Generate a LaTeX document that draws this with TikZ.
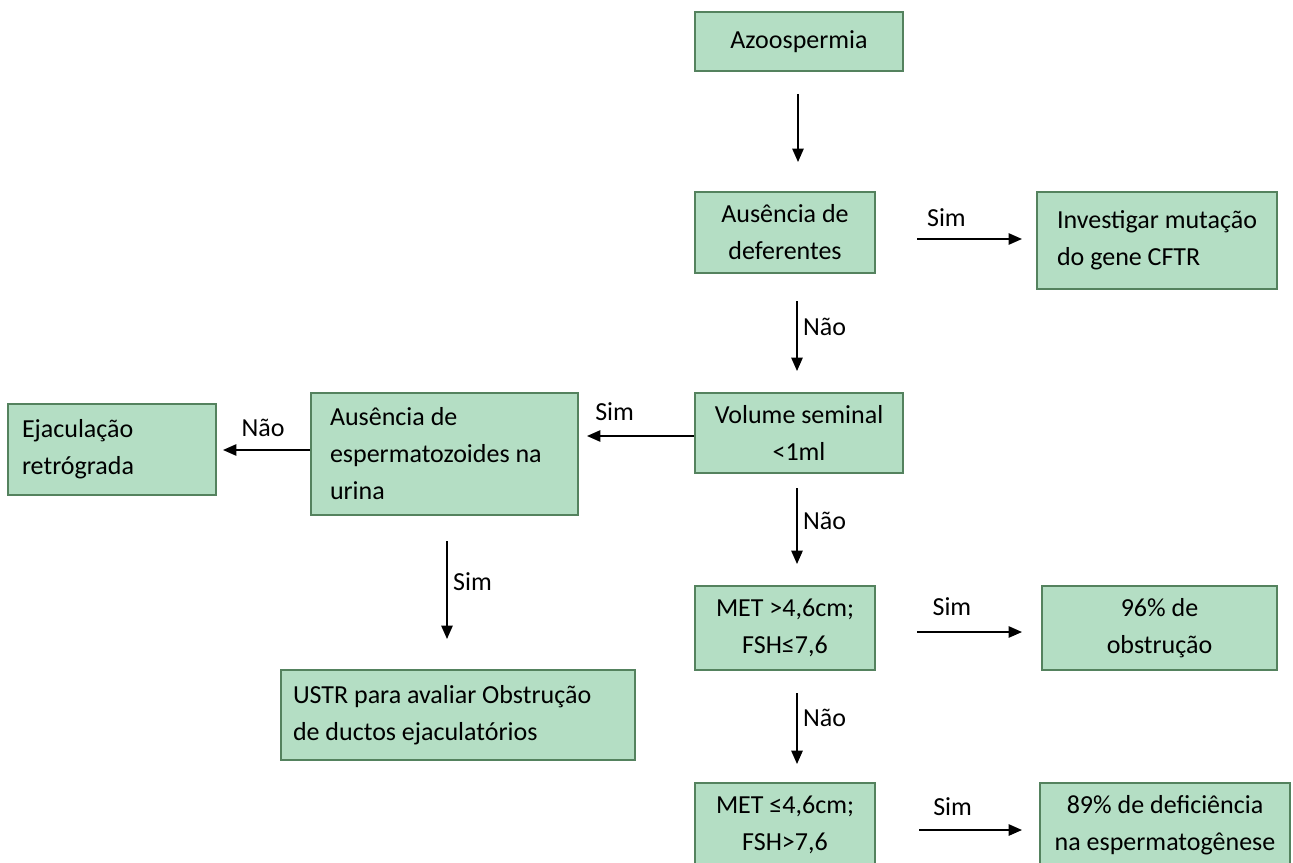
\documentclass[tikz,border=0pt]{standalone}
\usepackage{fontspec}
\setmainfont{Carlito}
\usetikzlibrary{arrows.meta}
\definecolor{boxfill}{RGB}{180,222,196}
\definecolor{boxline}{RGB}{84,130,94}
\tikzset{
  box/.style={draw=boxline, fill=boxfill, line width=1.5pt, inner sep=0pt,
    font=\fontsize{19.5pt}{27.75pt}\selectfont},
  arr/.style={line width=1.2pt, -{Triangle[length=10pt,width=8.5pt]}},
  lbl/.style={inner sep=0pt, font=\fontsize{19.5pt}{27.75pt}\selectfont},
}
\begin{document}
\begin{tikzpicture}[x=0.75pt,y=-0.75pt]
\useasboundingbox (0,0) rectangle (1293,863);
\clip (0,0) rectangle (1293,863);
% boxes
\node[box, minimum width=156pt, minimum height=44.25pt, align=center] (azoo) at (799,41.5) {Azoospermia};
\node[box, minimum width=135pt, minimum height=60.75pt, align=center] (ausdef) at (785,232.5) {Ausência de\\deferentes};
\node[box, minimum width=180pt, minimum height=72.75pt, align=left] (invest) at (1157,240.5) {Investigar mutação\\do gene CFTR};
\node[box, minimum width=156pt, minimum height=60pt, align=center] (vol) at (799,433) {Volume seminal\\<1ml};
\node[box, minimum width=200.25pt, minimum height=91.5pt, text width=171.75pt, align=flush left] (ausesp) at (444.5,454) {Ausência de\\espermatozoides~na\\urina};
\node[box, minimum width=156pt, minimum height=68.25pt, text width=135pt, align=flush left] (ejac) at (112,449.5) {Ejaculação\\retrógrada};
\node[box, minimum width=265.5pt, minimum height=67.5pt, text width=247.5pt, align=flush left] (ustr) at (458,715) {USTR para avaliar Obstrução\\de ductos ejaculatórios};
\node[box, minimum width=135pt, minimum height=63pt, align=center] (met1) at (785,628) {MET >4,6cm;\\FSH≤7,6};
\node[box, minimum width=176.25pt, minimum height=63pt, align=center] (obst) at (1159.5,628) {96\% de\\obstrução};
\node[box, minimum width=135pt, minimum height=63pt, align=center] (met2) at (785,825) {MET ≤4,6cm;\\FSH>7,6};
\node[box, minimum width=187.5pt, minimum height=63pt, align=center] (defic) at (1165,825) {89\% de deficiência\\na espermatogênese};
% helper coordinates
\coordinate (cz) at (798,0);
\coordinate (cx) at (797,0);
\coordinate (cu) at (447,0);
\coordinate (ya) at (0,239);
\coordinate (yb) at (0,436);
\coordinate (yc) at (0,450);
\coordinate (yd) at (0,632);
\coordinate (ye) at (0,830);
% vertical arrows
\draw[arr, shorten <=16.5pt, shorten >=21.75pt] (azoo.south -| cz) -- (ausdef.north -| cz);
\draw[arr, shorten <=20.25pt, shorten >=15.75pt] (ausdef.south -| cx) -- (vol.north -| cx)
  node[lbl, pos=0.45, anchor=west, xshift=4pt] {Não};
\draw[arr, shorten <=10.5pt, shorten >=15.75pt] (vol.south -| cx) -- (met1.north -| cx)
  node[lbl, pos=0.42, anchor=west, xshift=4pt] {Não};
\draw[arr, shorten <=16.5pt, shorten >=13.5pt] (met1.south -| cx) -- (met2.north -| cx)
  node[lbl, pos=0.42, anchor=west, xshift=4pt] {Não};
\draw[arr, shorten <=18.75pt, shorten >=22.5pt] (ausesp.south -| cu) -- (ustr.north -| cu)
  node[lbl, pos=0.43, anchor=west, xshift=4pt] {Sim};
% horizontal arrows
\draw[arr, shorten <=30.75pt, shorten >=10.5pt] (ausdef.east |- ya) -- (invest.west |- ya)
  node[lbl, pos=0.44, anchor=base, yshift=9pt] {Sim};
\draw[arr, shorten >=6pt] (vol.west |- yb) -- (ausesp.east |- yb)
  node[lbl, pos=0.69, anchor=base, yshift=12pt] {Sim};
\draw[arr, shorten >=4.5pt] (ausesp.west |- yc) -- (ejac.east |- yc)
  node[lbl, pos=0.505, anchor=base, yshift=10pt] {Não};
\draw[arr, shorten <=30.75pt, shorten >=14.25pt] (met1.east |- yd) -- (obst.west |- yd)
  node[lbl, pos=0.46, anchor=base, yshift=12.75pt] {Sim};
\draw[arr, shorten <=32.25pt, shorten >=12.75pt] (met2.east |- ye) -- (defic.west |- ye)
  node[lbl, pos=0.47, anchor=base, yshift=11pt] {Sim};
\end{tikzpicture}
\end{document}
